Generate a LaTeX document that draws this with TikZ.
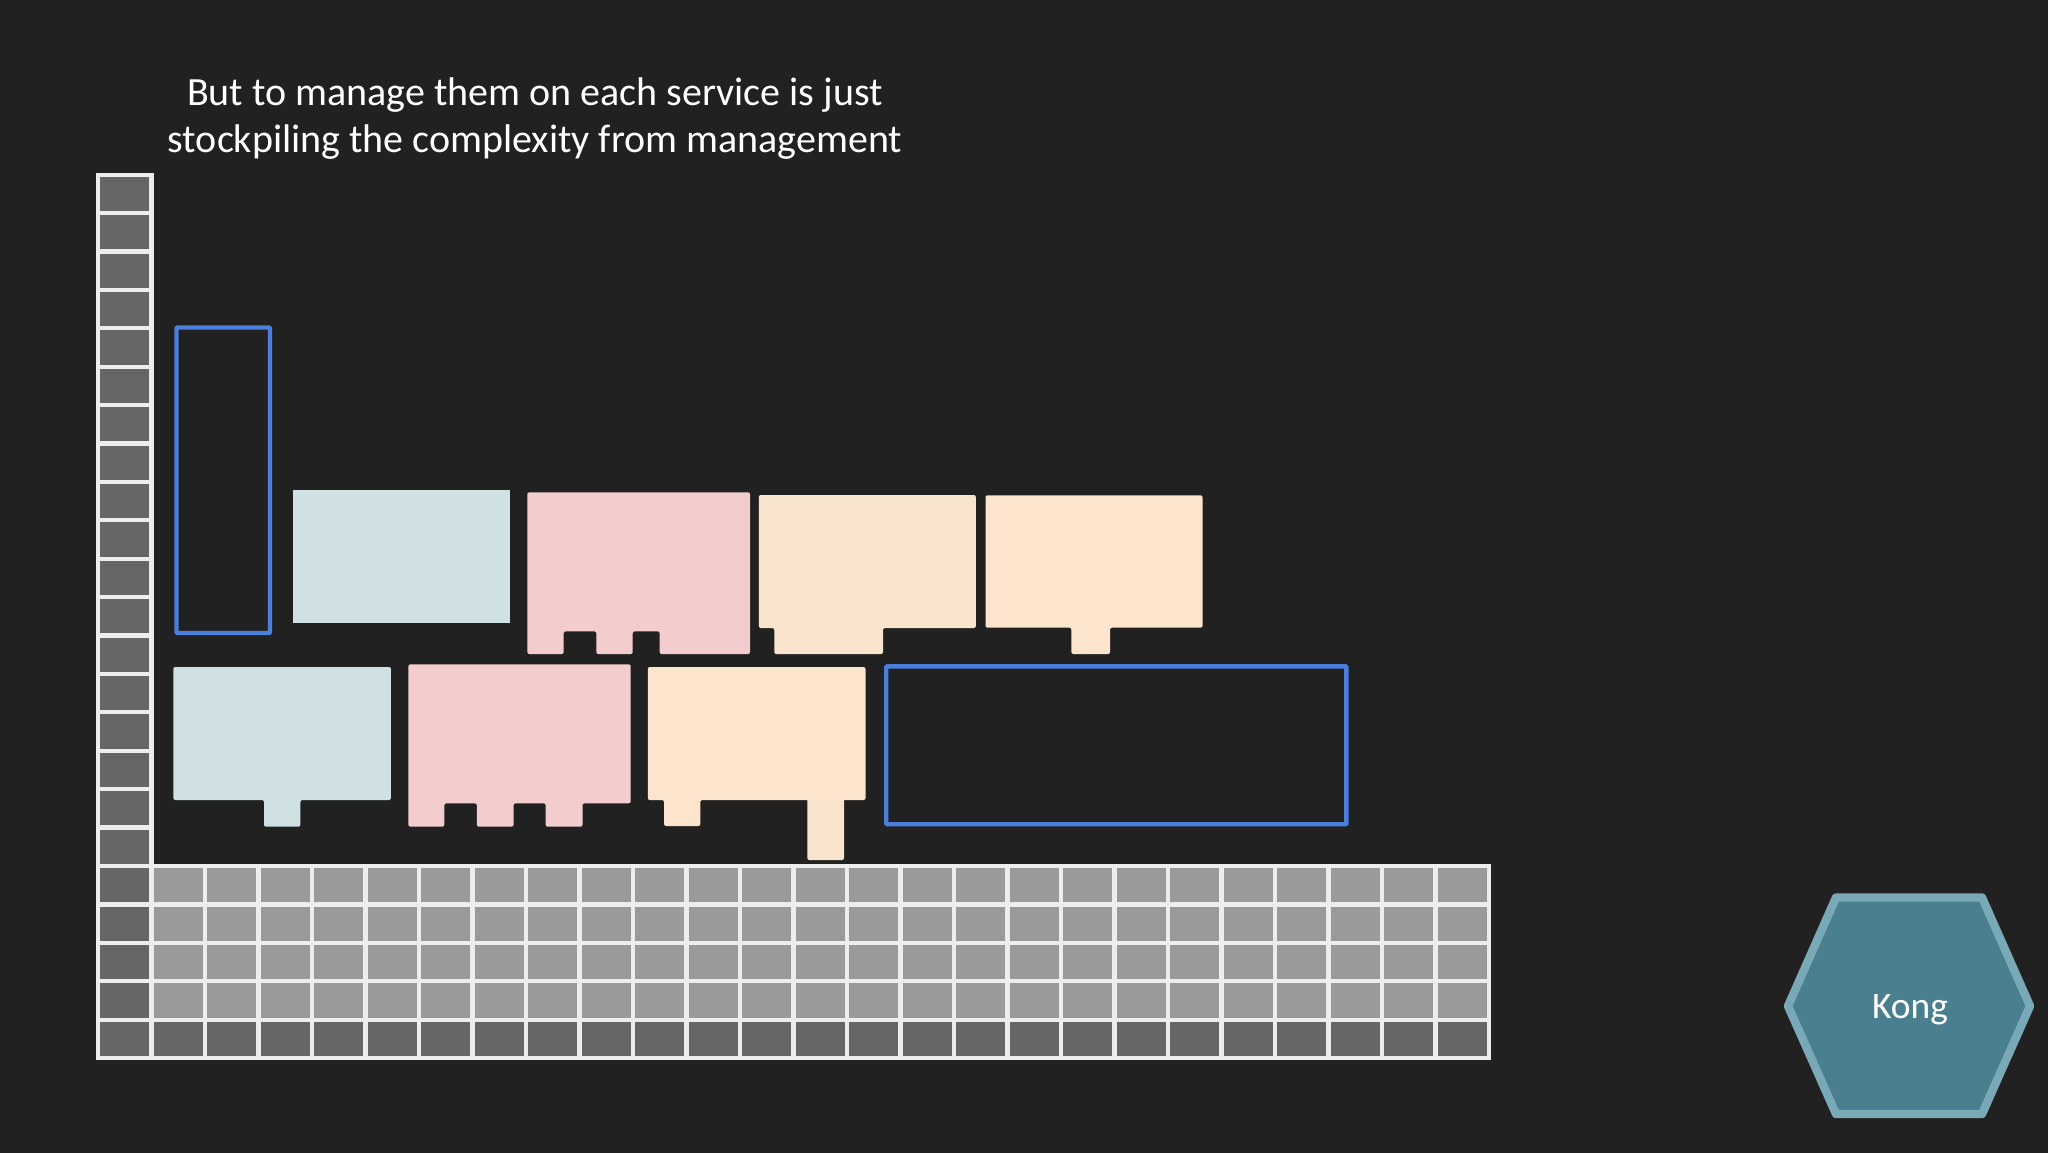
\documentclass[tikz,border=0pt]{standalone}
\usepackage{fontspec}
\setmainfont{Carlito}

\definecolor{slide}{HTML}{212122}
\definecolor{gridline}{HTML}{EDEDEF}
\definecolor{celldark}{HTML}{676667}
\definecolor{celllight}{HTML}{9A999B}
\definecolor{tealblock}{HTML}{CFE1E2}
\definecolor{pinkblock}{HTML}{F3CCCD}
\definecolor{creamblock}{HTML}{F9E5CE}
\definecolor{peachblock}{HTML}{FDE4CD}
\definecolor{frameblue}{HTML}{4A80DC}
\definecolor{kongfill}{HTML}{4A7F90}
\definecolor{kongline}{HTML}{79A9B6}

\tikzset{
  darkcell/.style={draw=gridline, fill=celldark, line width=2.1pt},
  lightcell/.style={draw=gridline, fill=celllight, line width=2.1pt},
  block/.style={rounded corners=1pt},
  emptyframe/.style={draw=frameblue, line width=2.2pt, rounded corners=0.5pt},
  slidetext/.style={text=white, inner sep=0pt},
}

\begin{document}
\begin{tikzpicture}[x=0.5pt, y=-0.5pt]
  \useasboundingbox (0,0) rectangle (2048,1152);
  \fill[slide] (-8,-8) rectangle (2056,1160);

  % title
  \node[slidetext, align=center, font=\fontsize{20}{23.65}\selectfont] (headline) at (535,118.5)
    {But to manage them on each service is just\\stockpiling the complexity from management};

  % grid
  \foreach \r in {0,...,22}
    \draw[darkcell] ({98},{174.6+\r*38.41}) rectangle ++(53.5,38.41);
  \foreach \c in {1,...,25} {
    \foreach \r in {18,...,21}
      \draw[lightcell] ({98+\c*53.5},{174.6+\r*38.41}) rectangle ++(53.5,38.41);
    \draw[darkcell] ({98+\c*53.5},{174.6+22*38.41}) rectangle ++(53.5,38.41);
  }

  % upper row
  \draw[emptyframe] (176.5,327.5) rectangle (270,633);
  \fill[tealblock] (292.5,490) rectangle (509.8,622.7);
  \fill[pinkblock, block] (527.3,492.3) -- (750,492.3) -- (750,654) -- (659.7,654) -- (659.7,631.3)
    -- (632.7,631.3) -- (632.7,654) -- (596.3,654) -- (596.3,631.3) -- (563.7,631.3)
    -- (563.7,654) -- (527.3,654) -- cycle;
  \fill[creamblock, block] (758.8,495) -- (975.8,495) -- (975.8,628) -- (883,628) -- (883,654)
    -- (774.3,654) -- (774.3,628) -- (758.8,628) -- cycle;
  \fill[peachblock, block] (985.5,495.3) -- (1202.5,495.3) -- (1202.5,627.7) -- (1110,627.7) -- (1110,654)
    -- (1071.4,654) -- (1071.4,627.7) -- (985.5,627.7) -- cycle;

  % lower row
  \fill[tealblock, block] (173.3,667) -- (390.9,667) -- (390.9,800) -- (300.4,800) -- (300.4,826.7)
    -- (264,826.7) -- (264,800) -- (173.3,800) -- cycle;
  \fill[pinkblock, block] (408.4,664.3) -- (630.7,664.3) -- (630.7,803.3) -- (582.5,803.3) -- (582.5,826.7)
    -- (545.7,826.7) -- (545.7,803.3) -- (513.6,803.3) -- (513.6,826.7) -- (476.9,826.7)
    -- (476.9,803.3) -- (444.3,803.3) -- (444.3,826.7) -- (408.4,826.7) -- cycle;
  \fill[creamblock, block] (807.3,790) -- (844,790) -- (844,860) -- (807.3,860) -- cycle;
  \fill[peachblock, block] (647.8,667) -- (865.5,667) -- (865.5,800) -- (844,800) -- (807.3,800)
    -- (700.3,800) -- (700.3,826) -- (664,826) -- (664,800) -- (647.8,800) -- cycle;
  \draw[emptyframe] (886.2,666.4) rectangle (1346.4,824.2);

  % gateway
  \draw[draw=kongline, fill=kongfill, line width=4.2pt, line join=round]
    (1836,897.5) -- (1982,897.5) -- (2030,1006) -- (1982,1114) -- (1836,1114) -- (1788,1006) -- cycle;
  \node[slidetext, font=\fontsize{18.7}{22}\selectfont] (kong) at (1910,1010) {Kong};
\end{tikzpicture}
\end{document}
